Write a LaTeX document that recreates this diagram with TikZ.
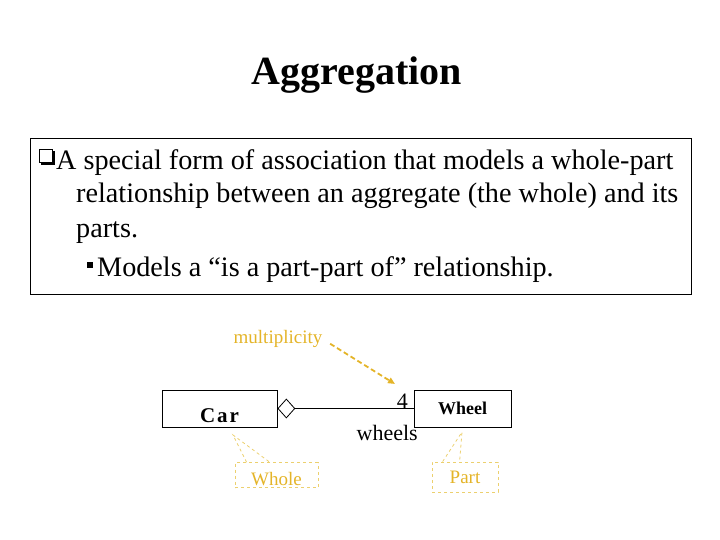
\documentclass[tikz,border=0pt]{standalone}
\usepackage{fontspec}
\setmainfont{Liberation Serif}
\usetikzlibrary{arrows.meta, positioning, calc, shapes.geometric}
\definecolor{NoteText}{RGB}{228,180,40}
\definecolor{NoteLine}{RGB}{236,208,110}

\begin{document}
\begin{tikzpicture}[
    x=1pt, y=-1pt,
    body/.style={font=\fontsize{28.2}{32}\selectfont, anchor=base west, inner sep=0pt},
    cls/.style={draw, line width=0.9pt, minimum height=37pt, inner sep=0pt},
    lbl/.style={font=\fontsize{22}{24}\selectfont, inner sep=0pt},
    note/.style={font=\fontsize{19}{21}\selectfont, text=NoteText, inner sep=0pt},
    notebox/.style={note, draw=NoteLine, dashed, line width=0.8pt},
    noteline/.style={draw=NoteLine, dashed, line width=0.8pt},
    notearr/.style={-{Triangle[length=7pt, width=6pt]}, NoteText, dashed,
        line width=1.8pt, dash pattern=on 5pt off 3pt}
]
\useasboundingbox (0,0) rectangle (720,540);

% title
\node[font=\bfseries\fontsize{40}{44}\selectfont] (title) at (357,75) {Aggregation};

% definition box
\node[draw, line width=0.8pt, minimum width=661pt, minimum height=156pt,
      anchor=north west, inner sep=0pt] (frame) at (30,138) {};
% check box bullet
\node[draw, line width=0.9pt, minimum size=13pt, inner sep=0pt] (chk) at (45.5,155.5) {};
\fill ($(chk.north east)+(0,2)$) rectangle ($(chk.south east)+(3,3)$);
\fill ($(chk.south west)+(2,0)$) rectangle ($(chk.south east)+(3,3)$);
\node[body] (l1) at (56,170) {A special form of association that models a whole-part};
\node[body] (l2) at (76,203) {relationship between an aggregate (the whole) and its};
\node[body] (l3) at (76,237) {parts.};
\node[fill, minimum size=6pt, inner sep=0pt] (bul) at (90,265) {};
\node[body] (l4) at (97,276) {Models a “is a part-part of” relationship.};

% classes
\node[cls, minimum width=115pt, text height=27pt, text depth=0pt] (car) at (219.5,408.5)
    {\fontsize{21}{24}\selectfont\bfseries C\kern2pt a\kern2pt r};
\node[cls, minimum width=97pt] (wheel) at (462.5,408.5)
    {\fontsize{18}{20}\selectfont\bfseries Wheel};
\node[draw, diamond, line width=0.8pt, minimum width=17pt, minimum height=19pt,
      inner sep=0pt, anchor=west, fill=white] (agg) at (car.east) {};
\draw[line width=0.8pt] (agg.east) -- (wheel.west);

% association end
\node[lbl, anchor=base east] (four) at (408,408) {4};
\node[lbl, anchor=base east] (role) at (418,440) {wheels};

% notes
\node[note] (multi) at (278,339) {multiplicity};
\coordinate (multTip) at (395,384);
\draw[notearr, shorten <=9pt] (multi.east) -- (multTip);

\node[notebox, minimum width=83pt, minimum height=25pt, text height=20pt,
      text depth=0pt] (whole) at (276.5,475) {Whole};
\coordinate (wholeTip) at (233,435);
\draw[noteline] ($(whole.north west)+(12,0)$) -- (wholeTip)
    -- ($(whole.north west)+(35,0)$);

\node[notebox, minimum width=66pt, minimum height=30pt] (part) at (465,477) {Part};
\coordinate (partTip) at (462,432);
\draw[noteline] ($(part.north west)+(11,0)$) -- (partTip)
    -- ($(part.north west)+(28,0)$);

\end{tikzpicture}
\end{document}
